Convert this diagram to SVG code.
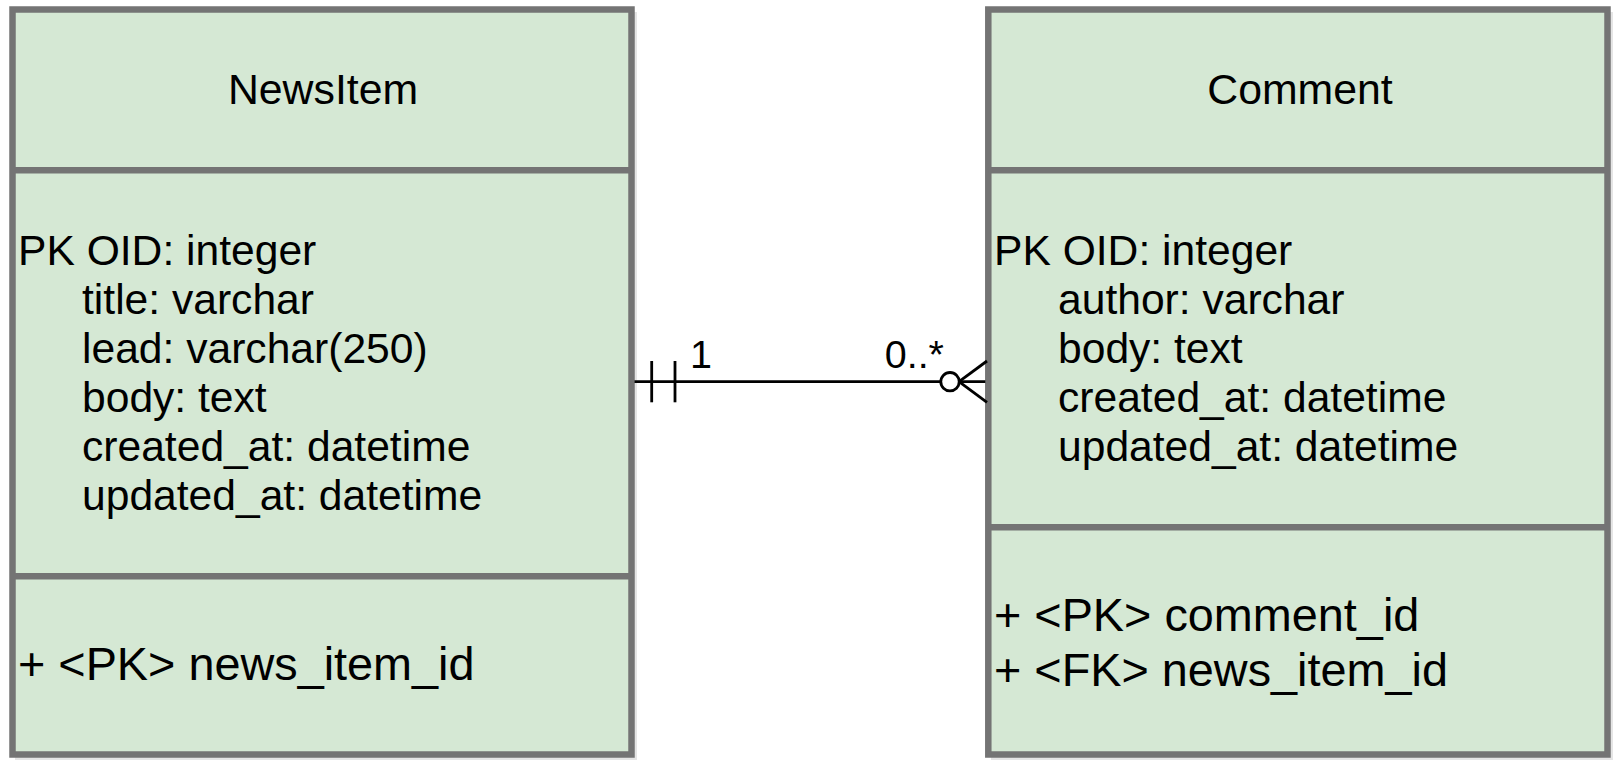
<svg xmlns="http://www.w3.org/2000/svg" width="1616" height="767" viewBox="0 0 1616 767">
<style>
.box{fill:#d5e8d4;stroke:#747474;stroke-width:6.5}
.sep{stroke:#747474;stroke-width:6.5;fill:none}
.shadow{fill:#000;opacity:0.1}
.t{font-family:"Liberation Sans",Arial,sans-serif;fill:#000}
.title{font-size:42.8px;text-anchor:middle}
.attr{font-size:42.6px}
.key{font-size:46.8px}
.lbl{font-size:39.5px}
.conn{stroke:#000;stroke-width:2.8;fill:none}
</style>
<rect width="1616" height="767" fill="#ffffff"/>
<g id="NewsItem">
<rect class="shadow" x="15" y="12" width="622" height="748"/>
<rect class="box" x="12.5" y="9.5" width="619" height="745"/>
<line class="sep" x1="12.5" y1="170.3" x2="631.5" y2="170.3"/>
<line class="sep" x1="12.5" y1="576.3" x2="631.5" y2="576.3"/>
<text class="t title" x="323" y="104">NewsItem</text>
<text class="t attr" x="18" y="265">PK OID: integer</text>
<text class="t attr" x="82" y="314">title: varchar</text>
<text class="t attr" x="82" y="363">lead: varchar(250)</text>
<text class="t attr" x="82" y="412">body: text</text>
<text class="t attr" x="82" y="461">created_at: datetime</text>
<text class="t attr" x="82" y="510">updated_at: datetime</text>
<text class="t key" x="18" y="680">+ &lt;PK&gt; news_item_id</text>
</g>
<g id="Comment">
<rect class="shadow" x="991" y="12" width="622" height="748"/>
<rect class="box" x="988.3" y="9.5" width="619.2" height="745"/>
<line class="sep" x1="988.3" y1="170.3" x2="1607.5" y2="170.3"/>
<line class="sep" x1="988.3" y1="527.3" x2="1607.5" y2="527.3"/>
<text class="t title" x="1300" y="104">Comment</text>
<text class="t attr" x="994" y="265">PK OID: integer</text>
<text class="t attr" x="1058" y="314">author: varchar</text>
<text class="t attr" x="1058" y="363">body: text</text>
<text class="t attr" x="1058" y="412">created_at: datetime</text>
<text class="t attr" x="1058" y="461">updated_at: datetime</text>
<text class="t key" x="994" y="631">+ &lt;PK&gt; comment_id</text>
<text class="t key" x="994" y="686">+ &lt;FK&gt; news_item_id</text>
</g>
<g id="connectors">
<line class="conn" x1="634.5" y1="381.7" x2="985.3" y2="381.7"/>
<line class="conn" x1="651.7" y1="361" x2="651.7" y2="402.3"/>
<line class="conn" x1="675" y1="361" x2="675" y2="402.3"/>
<line class="conn" x1="959" y1="381.7" x2="987" y2="361"/>
<line class="conn" x1="959" y1="381.7" x2="987" y2="402.3"/>
<circle class="conn" cx="950" cy="381.7" r="9.2" style="fill:#ffffff"/>
<text class="t lbl" x="690" y="368">1</text>
<text class="t lbl" x="944" y="368" text-anchor="end">0..*</text>
</g>
</svg>
